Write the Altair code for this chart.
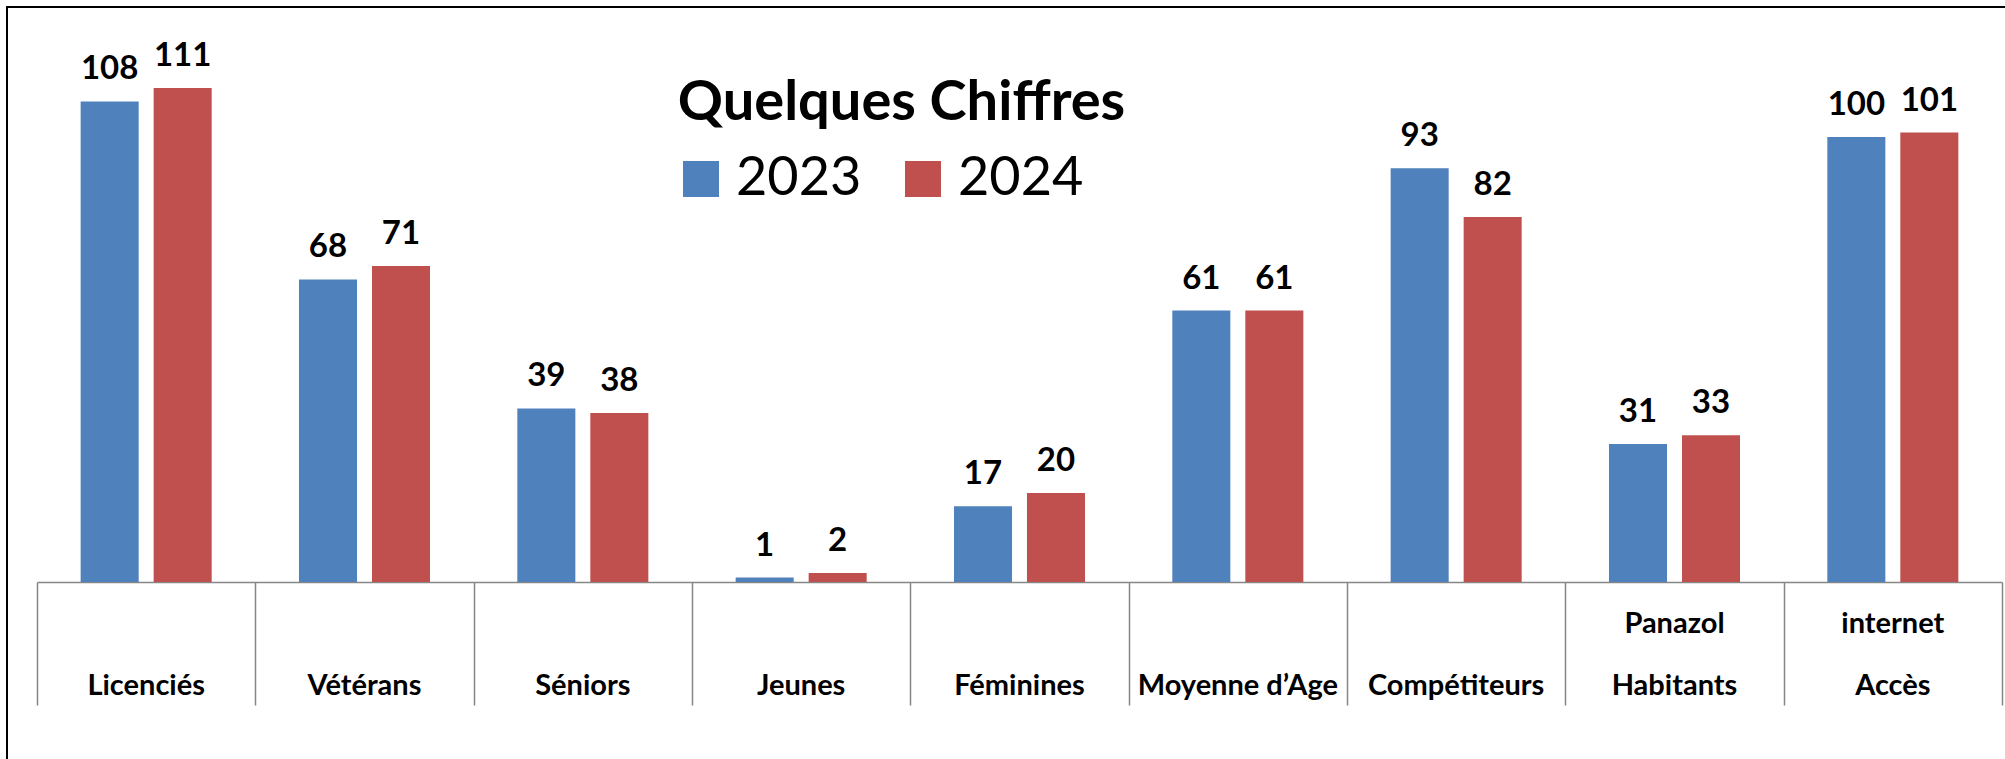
import altair as alt
import pandas as pd

# ---- data ----
categories = ["Licenciés", "Vétérans", "Séniors", "Jeunes", "Féminines",
              "Moyenne d'Age", "Compétiteurs", "Panazol Habitants", "internet Accès"]
label_top = ["", "", "", "", "", "", "", "Panazol", "internet"]
label_bottom = ["Licenciés", "Vétérans", "Séniors", "Jeunes", "Féminines",
                "Moyenne d’Age", "Compétiteurs", "Habitants", "Accès"]
years = ["2023", "2024"]
values_2023 = [108, 68, 39, 1, 17, 61, 93, 31, 100]
values_2024 = [111, 71, 38, 2, 20, 61, 82, 33, 101]
colors = ["#4F81BD", "#C0504D"]

rows = []
for c, v1, v2 in zip(categories, values_2023, values_2024):
    rows.append({"cat": c, "year": "2023", "value": v1})
    rows.append({"cat": c, "year": "2024", "value": v2})
df = pd.DataFrame(rows)
lab = pd.DataFrame({"cat": categories, "top": label_top, "bottom": label_bottom})

FONT = "Lato"
PL, PT, W, H = 37, 48, 1965, 534

xenc = alt.X("cat:N", sort=categories,
             scale=alt.Scale(paddingInner=0, paddingOuter=0),
             axis=alt.Axis(title=None, labels=False, grid=False,
                           domainColor="#868686", domainWidth=1.5,
                           ticks=True, tickBand="extent", tickSize=123,
                           tickColor="#868686", tickWidth=1.5))
xoff = alt.XOffset("year:N", sort=years,
                   scale=alt.Scale(paddingInner=0.205, paddingOuter=0.598))
yenc = alt.Y("value:Q", scale=alt.Scale(domain=[0, 120], nice=False), axis=None)

frame = alt.Chart(pd.DataFrame({"k": [0]})).mark_rect(
    fill=None, stroke="black", strokeWidth=2
).encode(
    x=alt.value(7 - PL), x2=alt.value(2005 - PL + 20),
    y=alt.value(7 - PT), y2=alt.value(759 - PT + 20)
)

bars = alt.Chart(df).mark_bar().encode(
    x=xenc, xOffset=xoff, y=yenc,
    color=alt.Color("year:N", sort=years,
                    scale=alt.Scale(domain=years, range=colors),
                    legend=alt.Legend(
                        orient="none", legendX=674 - PL, legendY=104,
                        direction="horizontal", title=None,
                        symbolType="square", symbolSize=1296,
                        symbolStrokeWidth=0, symbolOpacity=1,
                        labelFont=FONT, labelFontSize=54, labelColor="black",
                        labelOffset=8, columnPadding=34, padding=0,
                        labelLimit=0))
)

vals = alt.Chart(df).mark_text(
    dy=-22, baseline="alphabetic", font=FONT, fontSize=33,
    fontWeight="bold", color="black"
).encode(x=xenc, xOffset=xoff, y=yenc, text="value:Q")

top_lab = alt.Chart(lab).mark_text(
    baseline="alphabetic", font=FONT, fontSize=29, fontWeight="bold", color="black"
).encode(x=alt.X("cat:N", sort=categories), y=alt.value(633 - PT), text="top:N")

bot_lab = alt.Chart(lab).mark_text(
    baseline="alphabetic", font=FONT, fontSize=29, fontWeight="bold", color="black"
).encode(x=alt.X("cat:N", sort=categories), y=alt.value(695 - PT), text="bottom:N")

chart = alt.layer(frame, bars, vals, top_lab, bot_lab).properties(
    width=W, height=H,
    padding={"left": PL, "top": PT, "right": 2005 - PL - W, "bottom": 759 - PT - H},
    autosize=alt.AutoSizeParams(type="none"),
    title=alt.TitleParams("Quelques Chiffres", font=FONT, fontSize=56,
                          fontWeight="bold", anchor="middle", dx=-118, dy=174,
                          baseline="alphabetic", color="black"),
    background="white",
).configure_view(stroke=None)

chart.save("out.html", embed_options={"renderer": "svg", "actions": False})
